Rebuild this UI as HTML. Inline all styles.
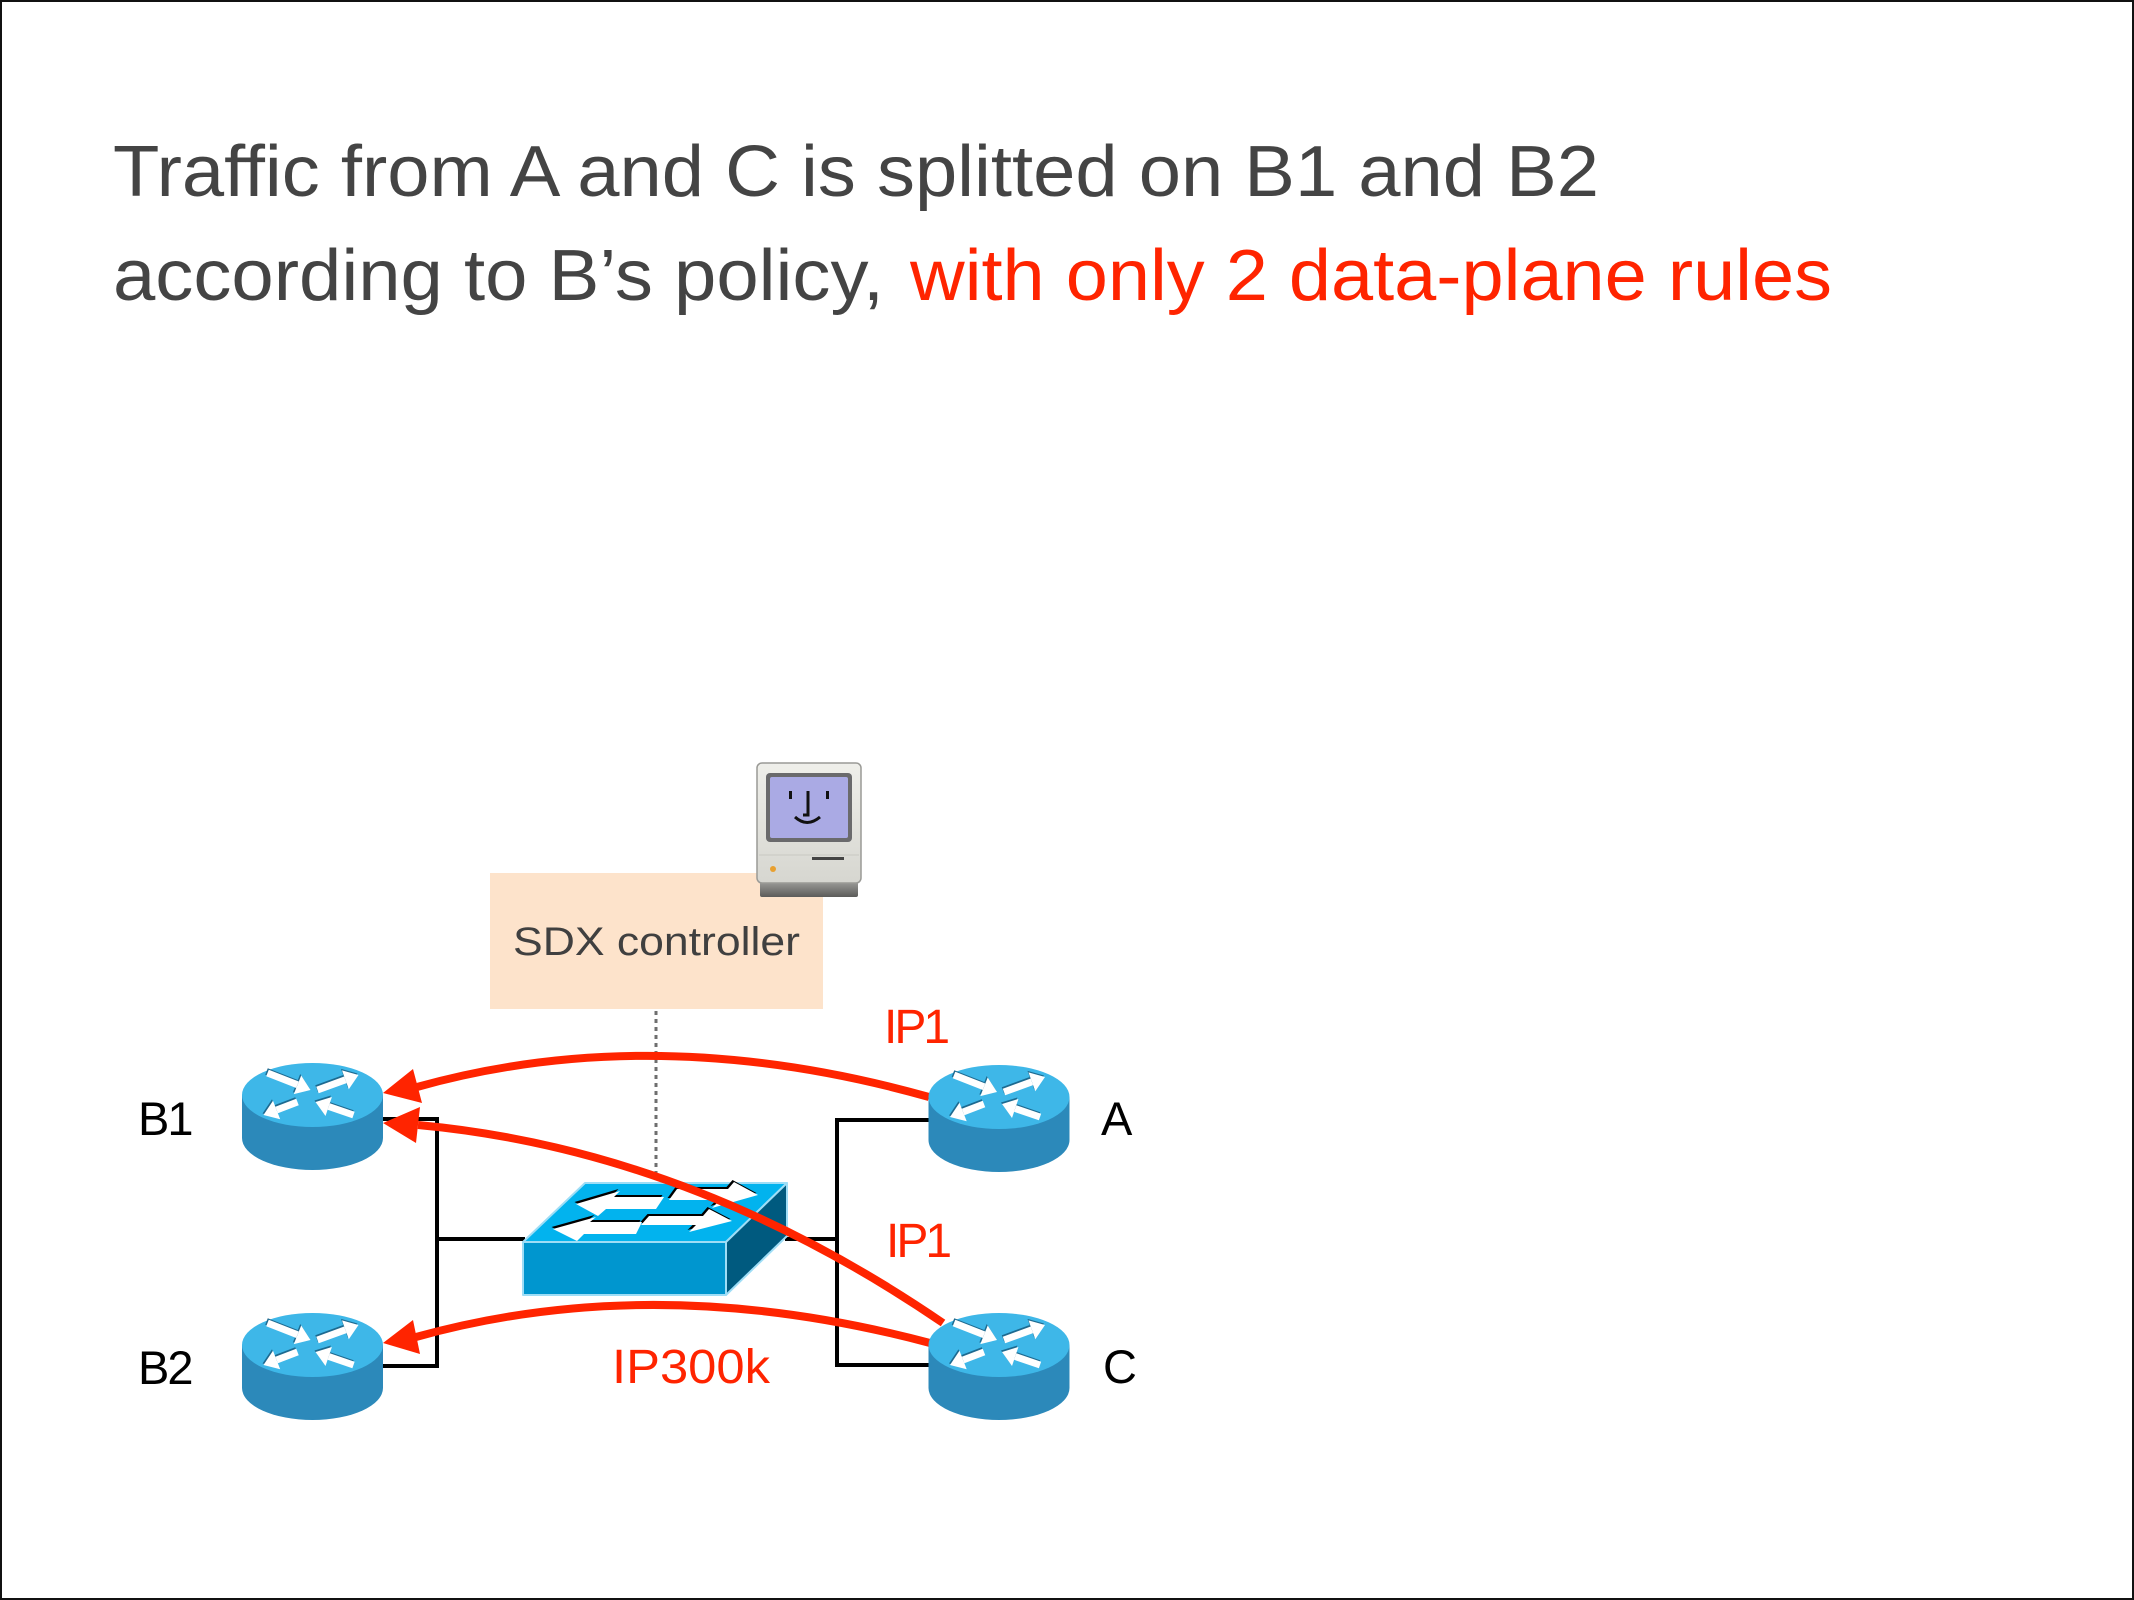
<!DOCTYPE html>
<html><head><meta charset="utf-8"><style>html,body{margin:0;padding:0;background:#fff}svg{display:block}</style></head>
<body>
<svg width="2134" height="1600" viewBox="0 0 2134 1600" xmlns="http://www.w3.org/2000/svg">
<defs>
  <linearGradient id="macbody" x1="0" y1="0" x2="0" y2="1">
    <stop offset="0" stop-color="#efefea"/><stop offset="1" stop-color="#d6d6d0"/>
  </linearGradient>
  <linearGradient id="macbase" x1="0" y1="0" x2="0" y2="1">
    <stop offset="0" stop-color="#a3a3a0"/><stop offset="1" stop-color="#5c5c5a"/>
  </linearGradient>
  <g id="rt">
    <path d="M-70.5 0 V43 A70.5 32 0 0 0 70.5 43 V0 Z" fill="#2C89BA"/>
    <ellipse cx="0" cy="0" rx="70.5" ry="32" fill="#3EB7E8"/>
    <g fill="#1d6a90" stroke="#1d6a90" stroke-width="7" transform="translate(-1,-1.5)">
      <line x1="-45" y1="-22" x2="-15" y2="-10.2"/><polygon stroke="none" points="-2,-5 -18.7,-0.9 -11.3,-19.5"/>
      <line x1="5" y1="-5" x2="32.9" y2="-15.2"/><polygon stroke="none" points="46,-20 36.3,-5.8 29.5,-24.6"/>
      <line x1="-15" y1="7" x2="-35.9" y2="15"/><polygon stroke="none" points="-49,20 -39.5,5.7 -32.3,24.3"/>
      <line x1="41" y1="20" x2="16.2" y2="11.5"/><polygon stroke="none" points="3,7 19.4,2 13,21"/>
    </g>
    <g fill="#fff" stroke="#fff" stroke-width="7">
      <line x1="-45" y1="-22" x2="-15" y2="-10.2"/><polygon stroke="none" points="-2,-5 -18.7,-0.9 -11.3,-19.5"/>
      <line x1="5" y1="-5" x2="32.9" y2="-15.2"/><polygon stroke="none" points="46,-20 36.3,-5.8 29.5,-24.6"/>
      <line x1="-15" y1="7" x2="-35.9" y2="15"/><polygon stroke="none" points="-49,20 -39.5,5.7 -32.3,24.3"/>
      <line x1="41" y1="20" x2="16.2" y2="11.5"/><polygon stroke="none" points="3,7 19.4,2 13,21"/>
    </g>
  </g>
</defs>

<rect x="1" y="1" width="2132" height="1598" fill="#fff" stroke="#111" stroke-width="2"/>

<!-- Title -->
<g font-family="'Liberation Sans', sans-serif" font-size="72">
  <text x="113" y="196" fill="#444444" textLength="1486" lengthAdjust="spacingAndGlyphs">Traffic from A and C is splitted on B1 and B2</text>
  <text x="113" y="300" fill="#444444" textLength="771" lengthAdjust="spacingAndGlyphs">according to B’s policy,</text>
  <text x="910" y="300" fill="#FF2400" textLength="922" lengthAdjust="spacingAndGlyphs">with only 2 data-plane rules</text>
</g>

<!-- SDX controller box -->
<rect x="490" y="873" width="333" height="136" fill="#FDE3CB"/>
<text x="513" y="955" font-family="'Liberation Sans', sans-serif" font-size="40" fill="#404040" textLength="287" lengthAdjust="spacingAndGlyphs">SDX controller</text>

<!-- Mac icon -->
<g>
  <rect x="760" y="880" width="98" height="17" rx="2" fill="url(#macbase)"/>
  <rect x="757" y="763" width="104" height="120" rx="5" fill="url(#macbody)" stroke="#9a9a96" stroke-width="1.5"/>
  <rect x="766" y="773" width="86" height="69" rx="4" fill="#6a6a6c"/>
  <rect x="770" y="777" width="78" height="61" rx="2" fill="#AAAAE4"/>
  <rect x="789" y="791" width="3" height="8" fill="#111"/>
  <rect x="826" y="791" width="3" height="8" fill="#111"/>
  <path d="M808 791 V815 H803" stroke="#111" stroke-width="3" fill="none"/>
  <path d="M795 817 Q807 828 820 817" stroke="#111" stroke-width="3" fill="none"/>
  <line x1="759" y1="855" x2="859" y2="855" stroke="#c8c8c2" stroke-width="1"/>
  <rect x="812" y="857" width="32" height="3" fill="#444"/>
  <circle cx="773" cy="869" r="3" fill="#e8a030"/>
</g>

<!-- dotted link controller->switch -->
<line x1="656" y1="1011" x2="656" y2="1180" stroke="#6f6f6f" stroke-width="3" stroke-dasharray="4 4"/>

<!-- black links -->
<g stroke="#000" stroke-width="4" fill="none">
  <polyline points="383,1119 437,1119 437,1366 383,1366"/>
  <line x1="437" y1="1239" x2="525" y2="1239"/>
  <line x1="785" y1="1239" x2="837" y2="1239"/>
  <polyline points="929,1120 837,1120 837,1365 929,1365"/>
</g>

<!-- switch -->
<g stroke="#9EDDF6" stroke-width="2" stroke-linejoin="round">
  <polygon points="585,1183 787,1183 726,1242 523,1242" fill="#02B3EE"/>
  <rect x="523" y="1242" width="203" height="53" fill="#0096CF"/>
  <polygon points="726,1242 787,1183 787,1236 726,1295" fill="#005A7F"/>
</g>
<g fill="#000" transform="translate(-1.5,-2)">
  <polygon points="576,1204 620,1191 614,1197 664,1197 656,1209 606,1209 598,1216"/>
  <polygon points="677,1189 728,1189 734,1182 758,1195 712,1208 720,1200 669,1200"/>
  <polygon points="553,1229 596,1217 590,1222 642,1222 636,1234 584,1234 577,1241"/>
  <polygon points="649,1216 703,1216 709,1209 732,1221 689,1232 696,1225 641,1225"/>
</g>
<g fill="#fff">
  <polygon points="576,1204 620,1191 614,1197 664,1197 656,1209 606,1209 598,1216"/>
  <polygon points="677,1189 728,1189 734,1182 758,1195 712,1208 720,1200 669,1200"/>
  <polygon points="553,1229 596,1217 590,1222 642,1222 636,1234 584,1234 577,1241"/>
  <polygon points="649,1216 703,1216 709,1209 732,1221 689,1232 696,1225 641,1225"/>
</g>

<!-- red flows -->
<g stroke="#FF2400" stroke-width="8" fill="none" stroke-linecap="butt">
  <path d="M929 1097 Q656 1020 417 1087"/>
  <path d="M943 1323 Q690 1150 418 1125"/>
  <path d="M930 1343 Q656 1270 416 1337"/>
</g>

<!-- routers -->
<use href="#rt" transform="translate(312.5,1095)"/>
<use href="#rt" transform="translate(999,1097)"/>
<use href="#rt" transform="translate(312.5,1345)"/>
<use href="#rt" transform="translate(999,1345)"/>

<!-- arrowheads -->
<g fill="#FF2400">
  <polygon points="383,1093 413,1069 422,1103"/>
  <polygon points="383,1123 420,1107 416,1143"/>
  <polygon points="383,1343 413,1320 420,1354"/>
</g>

<!-- labels -->
<g font-family="'Liberation Sans', sans-serif" font-size="47" fill="#000" letter-spacing="-2">
  <text x="138" y="1135">B1</text>
  <text x="138" y="1384">B2</text>
  <text x="1101" y="1135">A</text>
  <text x="1103" y="1383">C</text>
</g>
<g font-family="'Liberation Sans', sans-serif" font-size="48" fill="#FF2400">
  <text x="884" y="1043" letter-spacing="-3">IP1</text>
  <text x="886" y="1257" letter-spacing="-3">IP1</text>
  <text x="612" y="1383" textLength="158" lengthAdjust="spacingAndGlyphs">IP300k</text>
</g>
</svg>
</body></html>
